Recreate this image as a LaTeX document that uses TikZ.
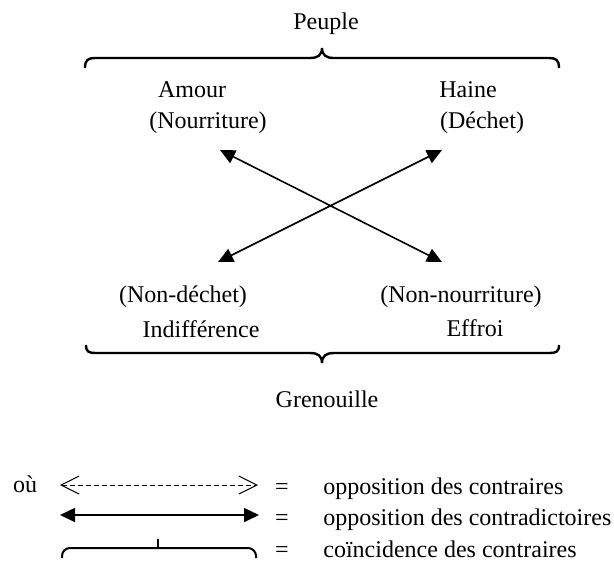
\documentclass[tikz,border=0pt,12pt]{standalone}
\usepackage{fontspec}
\setmainfont{Liberation Serif}
\usetikzlibrary{arrows.meta}

\begin{document}
\begin{tikzpicture}[x=0.5pt, y=-0.5pt,
    contra/.style={line width=0.8pt, {Triangle[length=7.5pt,width=7pt]}-{Triangle[length=7.5pt,width=7pt]}},
    contraire/.style={line width=0.5pt, dash pattern=on 2.5pt off 1.5pt, {Straight Barb[length=9pt,width=9pt]}-{Straight Barb[length=9pt,width=9pt]}},
    accolade/.style={line width=1.2pt},
    mot/.style={anchor=base, inner sep=0pt},
    legende/.style={anchor=base west, inner sep=0pt}]
  \useasboundingbox (0,0) rectangle (614,563);

  % groupes
  \node[mot] (peuple) at (326,29) {Peuple};
  \node[mot] (grenouille) at (327,407) {Grenouille};

  % accolade du haut
  \draw[accolade] (85,68) .. controls (85,60) and (88,58) .. (95,58) -- (310,58)
    .. controls (318,58) and (322,55) .. (322,48)
    .. controls (322,55) and (326,58) .. (334,58) -- (549,58)
    .. controls (556,58) and (559,60) .. (559,68);

  % accolade du bas
  \draw[accolade] (86,345) .. controls (86,352) and (89,353) .. (96,353) -- (310,353)
    .. controls (318,353) and (322,356) .. (322,363)
    .. controls (322,356) and (326,353) .. (334,353) -- (549,353)
    .. controls (556,353) and (559,352) .. (559,345);

  % termes du carré
  \node[mot] (amour) at (192,97) {Amour};
  \node[mot] (nourriture) at (208,128) {(Nourriture)};
  \node[mot] (haine) at (468,97) {Haine};
  \node[mot] (dechet) at (482,128) {(Déchet)};
  \node[mot] (nondechet) at (183,302) {(Non-déchet)};
  \node[mot] (indiff) at (201,337) {Indifférence};
  \node[mot] (nonnourr) at (461,302) {(Non-nourriture)};
  \node[mot] (effroi) at (475,336) {Effroi};

  % diagonales (contradictoires)
  \coordinate (NO) at (220,150);
  \coordinate (NE) at (442,150);
  \coordinate (SO) at (218,262);
  \coordinate (SE) at (442,262);
  \draw[contra] (NO) -- (SE);
  \draw[contra] (SO) -- (NE);

  % légende
  \node[mot] (ou) at (25,492) {où};
  \coordinate (L1a) at (60,485);
  \coordinate (L1b) at (258,485);
  \coordinate (L2a) at (60,515);
  \coordinate (L2b) at (259,515);
  \draw[contraire] (L1a) -- (L1b);
  \draw[contra] (L2a) -- (L2b);
  \draw[line width=1pt, rounded corners=4pt] (62,558) -- (62,548) -- (256,548) -- (256,558);
  \draw[line width=1pt] (158,548) -- (158,539);

  \node[mot] (eg1) at (282,494) {=};
  \node[mot] (eg2) at (282,525) {=};
  \node[mot] (eg3) at (282,557) {=};
  \node[legende] (txt1) at (323,494) {opposition des contraires};
  \node[legende] (txt2) at (323,525) {opposition des contradictoires};
  \node[legende] (txt3) at (323,557) {coïncidence des contraires};
\end{tikzpicture}
\end{document}
